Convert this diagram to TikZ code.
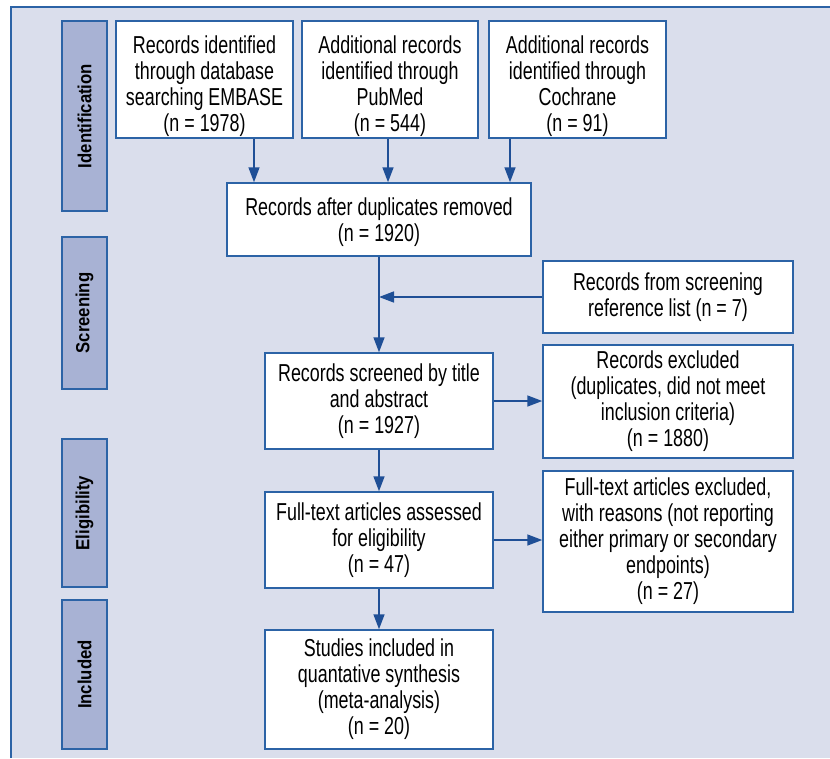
\documentclass[tikz,border=0pt]{standalone}
\usepackage{fontspec}
\setmainfont[FakeStretch=0.73]{Liberation Sans}
\newfontfamily\stagefont[FakeStretch=0.88]{Liberation Sans}
\usepackage{tikz}
\usetikzlibrary{arrows.meta}
\definecolor{bgblue}{HTML}{DADEEC}
\definecolor{stageblue}{HTML}{A8B2D4}
\definecolor{lineblue}{HTML}{2C63A6}
\definecolor{arrowblue}{HTML}{1F4F96}
\newcommand{\topgap}[1]{\rule{0pt}{#1}}

\begin{document}
\begin{tikzpicture}[x=1pt,y=-1pt,
  box/.style={draw=lineblue, line width=1.5pt, fill=white, align=center, inner sep=0pt,
    font=\fontsize{24.5}{26}\selectfont},
  srcbox/.style={box, minimum width=177pt, minimum height=117pt},
  stage/.style={draw=lineblue, line width=1.5pt, fill=stageblue, rotate=90, inner sep=0pt,
    minimum height=45pt, font=\stagefont\bfseries\fontsize{19}{21}\selectfont},
  arr/.style={draw=arrowblue, line width=1.6pt, -{Triangle[length=15pt,width=11pt]}}]
%\draw[help lines] (0,0) grid[step=50] (830,758);
\useasboundingbox (0,0) rectangle (830,758);

 \fill[bgblue] (11,7) rectangle (830,758);
 \draw[lineblue, line width=1.5pt] (11,758) -- (11,7) -- (830,7);

 % stages
 \node[stage, minimum width=190pt] (ident) at (84.5,116) {Identification};
 \node[stage, minimum width=152pt] (screen) at (84.5,313) {Screening};
 \node[stage, minimum width=148pt] (elig) at (84.5,513) {Eligibility};
 \node[stage, minimum width=149pt] (incl) at (84.5,674.5) {Included};

 % identification
 \node[srcbox] (embase) at (204.5,79.5)
   {\topgap{31pt}Records identified\\through database\\searching EMBASE\\(n = 1978)};
 \node[srcbox, minimum width=176pt] (pubmed) at (390,79.5)
   {\topgap{31pt}Additional records\\identified through\\PubMed\\(n = 544)};
 \node[srcbox] (cochrane) at (577.5,79.5)
   {\topgap{31pt}Additional records\\identified through\\Cochrane\\(n = 91)};
 \node[box, minimum width=304pt, minimum height=73pt] (dupl) at (379,219.5)
   {\topgap{23pt}Records after duplicates removed\\(n = 1920)};

 % screening
 \node[box, minimum width=250pt, minimum height=72pt] (reflist) at (668,297)
   {Records from screening\\reference list (n = 7)};
 \node[box, minimum width=228pt, minimum height=96pt] (screened) at (379,401)
   {Records screened by title\\and abstract\\(n = 1927)};
 \node[box, minimum width=250pt, minimum height=113pt] (recexcl) at (668,401.5)
   {Records excluded\\(duplicates, did not meet\\inclusion criteria)\\(n = 1880)};

 % eligibility
 \node[box, minimum width=228pt, minimum height=96pt] (fulltext) at (379,540)
   {Full-text articles assessed\\for eligibility\\(n = 47)};
 \node[box, minimum width=250pt, minimum height=141pt] (ftexcl) at (668,541.5)
   {Full-text articles excluded,\\with reasons (not reporting\\either primary or secondary\\endpoints)\\(n = 27)};

 % included
 \node[box, minimum width=228pt, minimum height=119pt] (studies) at (379,689.5)
   {Studies included in\\quantative synthesis\\(meta-analysis)\\(n = 20)};

 \draw[arr] (embase.south -| 254,0) -- (dupl.north -| 254,0);
 \draw[arr] (pubmed.south -| 388,0) -- (dupl.north -| 388,0);
 \draw[arr] (cochrane.south -| 510,0) -- (dupl.north -| 510,0);
 \draw[arr] (dupl.south) -- (screened.north);
 \draw[arr] (reflist.west) -- (reflist.west -| dupl.south);
 \draw[arr] (screened.east) -- (screened.east -| recexcl.west);
 \draw[arr] (screened.south) -- (fulltext.north);
 \draw[arr] (fulltext.east) -- (fulltext.east -| ftexcl.west);
 \draw[arr] (fulltext.south) -- (studies.north);

\end{tikzpicture}
\end{document}
